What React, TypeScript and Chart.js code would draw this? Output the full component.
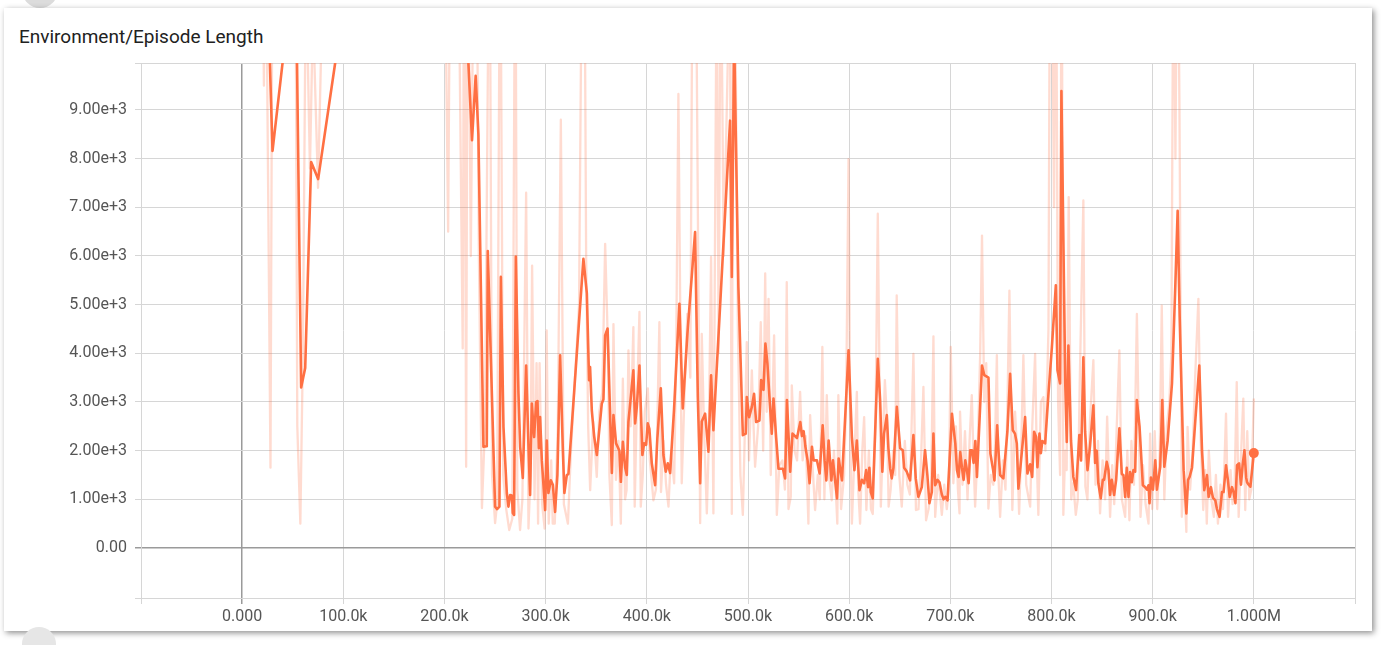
import React, { useEffect, useRef } from 'react';
import { Chart, registerables } from 'chart.js';

Chart.register(...registerables);

const TITLE = 'Environment/Episode Length';

// Smoothed series (steps in thousands)
const SMOOTH_STEPS_K = [
  23.7, 30.0, 44.5, 49.4, 53.9, 58.3, 62.3, 68.2, 75.1, 91.9, 96.9, 140, 190, 217, 222.4,
  227.2, 230.8, 233.5, 238.5, 241.8, 242.8, 250.0, 252.0, 254.3, 255.7, 258.3, 261.6, 263.2, 264.9,
  266.6, 267.5, 268.8, 270.5, 273.1, 274.8, 277.4, 280.7, 283.0, 284.6, 286.3, 288.6, 290.6, 291.9,
  293.3, 294.5, 296.2, 299.5, 301.1, 302.7, 305.1, 307.1, 309.3, 311.6, 314.3, 317.0, 318.5, 320.9,
  322.5, 337.3, 340.7, 342.9, 343.9, 345.6, 347.9, 350.6, 355.5, 357.1, 358.8, 361.2, 365.4, 367.0,
  369.6, 372.9, 374.3, 376.3, 378.6, 380.2, 381.8, 386.7, 388.4, 390.1, 392.7, 395.6, 397.3, 399.3,
  400.9, 402.5, 404.9, 408.2, 410.4, 413.8, 416.4, 418.7, 420.7, 423.0, 426.9, 432.2, 435.5, 440.1,
  447.7, 450.4, 452.7, 454.3, 457.6, 460.9, 463.5, 465.8, 482.3, 484.0, 486.3, 490.5, 494.9, 497.8,
  498.8, 501.1, 503.8, 506.0, 508.0, 511.3, 513.0, 515.3, 517.2, 519.2, 521.2, 523.5, 525.2, 527.8,
  530.1, 534.5, 536.7, 538.5, 541.7, 544.0, 548.4, 550.0, 551.7, 553.3, 555.0, 556.6, 558.9, 560.9,
  563.2, 564.9, 568.2, 570.8, 573.8, 575.7, 577.4, 579.7, 582.4, 584.0, 586.1, 588.0, 589.6, 592.9,
  599.4, 602.7, 605.2, 607.6, 610.2, 612.6, 614.8, 616.8, 618.7, 620.0, 621.4, 623.3, 628.3, 630.6,
  632.8, 634.5, 637.2, 638.8, 640.5, 642.1, 643.8, 647.1, 650.4, 653.0, 654.3, 656.9, 660.2, 663.5,
  665.8, 668.4, 671.8, 675.0, 677.3, 679.3, 681.7, 683.3, 685.0, 687.3, 689.3, 691.6, 693.3, 695.0,
  697.2, 701.6, 704.9, 706.6, 708.2, 709.8, 711.5, 713.1, 714.8, 716.4, 718.1, 719.7, 721.4, 723.0,
  724.7, 726.3, 731.3, 733.6, 737.7, 739.6, 742.3, 743.6, 746.3, 747.9, 749.2, 752.4, 756.4, 759.1,
  761.7, 763.9, 765.7, 767.3, 773.9, 776.2, 778.9, 780.9, 782.8, 784.8, 786.1, 788.1, 789.5, 791.0,
  793.7, 797.0, 800.3, 804.3, 805.9, 808.5, 809.8, 813.6, 815.1, 816.7, 819.3, 821.6, 824.3, 827.5,
  829.2, 831.5, 833.2, 835.6, 838.1, 841.4, 843.1, 844.7, 846.3, 848.7, 850.7, 852.0, 854.6, 856.3,
  857.9, 859.6, 861.9, 863.9, 867.1, 869.5, 871.1, 872.8, 874.4, 876.1, 877.7, 879.4, 881.0, 882.7,
  884.4, 887.0, 890.3, 892.6, 894.3, 895.9, 896.9, 898.3, 900.3, 902.6, 904.2, 907.5, 909.5, 911.5,
  914.8, 919.1, 922.4, 924.7, 926.7, 929.0, 930.6, 933.3, 935.0, 936.5, 938.9, 942.2, 946.1, 948.8,
  951.0, 953.7, 955.3, 957.6, 959.6, 961.9, 963.5, 966.1, 968.5, 970.1, 972.5, 974.4, 976.1, 978.4,
  980.0, 981.8, 983.4, 985.4, 987.3, 988.9, 990.7, 992.4, 993.3, 994.9, 996.6, 1000.0,
];
const SMOOTH_VALUES = [
  12500, 8160, 10800, 13000, 10500, 3300, 3700, 7930, 7580, 9960, 10700, 15000, 16000, 13000, 10500,
  8380, 9700, 8500, 2080, 2090, 6100, 850, 800, 850, 5570, 2490, 1130, 850, 1090,
  1080, 720, 680, 5990, 3180, 2080, 1440, 3750, 2100, 1090, 2970, 2280, 3000, 3020,
  2050, 2690, 1800, 780, 2210, 1130, 1390, 1300, 740, 1500, 3960, 2000, 1130, 1500,
  1520, 5940, 5230, 3450, 3720, 2830, 2300, 1910, 2970, 3050, 4370, 4510, 1540, 2730,
  2150, 2000, 1360, 2180, 1650, 1500, 2590, 3650, 2560, 2900, 3750, 1910, 2150, 2120,
  2560, 2450, 1740, 1290, 2250, 3280, 1910, 1570, 1740, 1540, 2850, 5020, 2870, 4400,
  6490, 3100, 1330, 2600, 2760, 1980, 3550, 2420, 8780, 5570, 10500, 5360, 2320, 2350,
  3100, 2690, 2900, 3170, 2590, 2620, 3450, 3250, 4200, 3790, 3100, 2350, 3070, 2280,
  1630, 1630, 1430, 3040, 1570, 2350, 2260, 2420, 2590, 2300, 2400, 2100, 1800, 1330,
  2080, 1800, 1800, 1530, 2520, 1800, 1390, 2210, 1390, 1800, 1390, 1020, 1840, 1390,
  4060, 2280, 1600, 2210, 1190, 1400, 1330, 1600, 1250, 1650, 1150, 1020, 3890, 3040,
  1570, 2350, 2730, 2050, 1640, 1430, 1650, 2900, 2050, 2010, 1650, 1570, 1390, 2320,
  1430, 1050, 1250, 2010, 1500, 920, 1150, 2350, 1290, 1400, 1350, 1100, 1000, 1050,
  980, 2760, 2150, 1600, 1460, 1970, 1650, 1400, 1800, 1600, 1330, 2010, 2010, 1750,
  2200, 1460, 3750, 3550, 3500, 1940, 1600, 1390, 2520, 1900, 1500, 1430, 2390, 3580,
  2420, 2350, 2150, 1220, 2690, 1530, 1720, 1460, 2390, 2280, 1660, 2350, 1950, 2200,
  2150, 3170, 4100, 5400, 3650, 3380, 9390, 3380, 2180, 4160, 2200, 1460, 1190, 2320,
  1800, 3920, 2400, 1600, 2100, 2930, 1750, 2000, 1330, 1020, 1400, 1400, 1770, 1600,
  1090, 1400, 1090, 1400, 2460, 1520, 1500, 1050, 1650, 1050, 1560, 1350, 1600, 1570,
  3040, 2500, 1290, 1250, 1200, 1290, 920, 1450, 1200, 1800, 1200, 1670, 3040, 1670,
  2200, 3380, 5400, 6930, 4740, 2900, 1600, 710, 1400, 1460, 1650, 2630, 3750, 2000,
  1190, 1500, 1050, 1250, 1030, 980, 800, 640, 1150, 1150, 1700, 1390, 1050, 1250,
  1150, 920, 1700, 1740, 1300, 1700, 2010, 1450, 1350, 1300, 1260, 1950,
];

// Raw series (steps in thousands)
const RAW_STEPS_K = [
  20, 21.5, 23, 28, 30, 36, 42, 48, 53, 54.5, 57.5, 60, 63, 67, 70, 75, 80, 86, 92, 98,
  120, 150, 180, 199, 203.6, 206, 212, 218, 219.5, 221.4, 223, 226, 229, 232, 234, 237, 240, 244.5,
  247, 250, 252, 255, 258, 261, 264, 267, 270, 272, 274.7, 277, 280.7, 283, 285, 286.6, 289, 291,
  292.5, 294, 296.5, 299, 301, 303, 305.5, 307, 309, 312, 315, 318, 322, 325, 329, 333, 336, 338,
  340, 342, 344, 347, 350.5, 353, 356, 358.8, 361.5, 363, 365.4, 367, 369.5, 372, 374.3, 376.3,
  378.5, 380, 381.8, 384, 386.7, 388, 390, 392.7, 394, 396, 398, 401, 403, 406.5, 409, 412.4,
  414, 416.5, 419, 421.4, 424, 427, 429, 431.2, 434.5, 437, 440, 443, 445, 447, 449, 452.7,
  454.3, 456.5, 459.3, 461, 463.5, 465.8, 469, 471, 473, 476, 479, 482, 484, 485.5, 487.5, 490,
  492.5, 494.9, 497, 498.8, 501, 503.8, 505.5, 507, 510, 512.6, 515, 517, 518.5, 520.3, 522.5,
  525.8, 528.5, 531, 534, 536.5, 538.3, 540, 542.3, 543.3, 546, 548.5, 551.5, 554, 557, 559.7,
  561.4, 563.5, 566.3, 569, 571, 573.5, 575.5, 577.9, 580, 582.8, 585, 588.3, 589.3, 592, 595,
  597, 599.4, 601, 602.7, 605, 607.6, 609, 610.8, 613, 614.8, 617, 619.5, 621.5, 623.3, 626,
  628.3, 631.3, 633, 635.3, 637.5, 639, 641, 643.5, 645.5, 647, 649.5, 652, 655, 657.5, 660,
  663.5, 666, 668.5, 671, 673.4, 676, 678.5, 681, 683.3, 685, 688, 691.6, 694, 696.5, 698.5,
  700.4, 703, 705.5, 707.5, 709.1, 709.6, 712, 714.5, 717, 719, 721.2, 723, 724.5, 727, 729.5,
  731.3, 733.5, 735.5, 737.6, 740, 742.5, 744, 746, 747.5, 749.2, 752, 754.5, 756.5, 758.4,
  761.3, 764, 766, 768, 770, 772.2, 775, 778.9, 781, 783.8, 785.5, 787, 789.5, 792, 794, 797,
  798.5, 800.5, 802.5, 804.5, 806.5, 808.5, 810, 811.7, 813.5, 815, 817, 819.5, 821.5, 824, 826,
  828, 831.5, 833.5, 835.5, 838, 841.4, 843.5, 846, 848, 850.5, 853, 855, 857.9, 860, 862,
  864.5, 867.1, 869.5, 872.8, 875, 877, 879, 881.5, 884.4, 886, 888, 890.5, 893, 895.9, 897.5,
  899.5, 902, 904.5, 907, 909, 911.5, 914, 916.5, 918.5, 920.5, 922.5, 924.5, 926.5, 928.8, 931,
  933.3, 934.5, 937, 939.5, 942, 945.2, 947.5, 950, 952, 953.5, 955.5, 958, 960.5, 962.5, 964.5,
  967, 969.5, 972.5, 974.5, 977, 979, 981, 983.1, 985, 987.5, 989.6, 991.5, 993.5, 995.5, 997.5,
  1000,
];
const RAW_VALUES = [
  13000, 9500, 14000, 1650, 13000, 15000, 12000, 16000, 11000, 2500, 500, 4000, 12000, 7800, 11000, 7400, 12000, 14000, 16000, 14000,
  17000, 18000, 16000, 15000, 6500, 14000, 16000, 4100, 14000, 1670, 14000, 6000, 13000, 12000, 6000, 820, 2500, 14000,
  1500, 510, 900, 14000, 1500, 800, 370, 600, 14000, 1200, 370, 1000, 7300, 400, 1500, 5800, 1000, 3800,
  500, 3800, 900, 400, 4470, 500, 1800, 500, 500, 2500, 8800, 900, 500, 2000, 3500, 5000, 13000, 14000,
  6000, 2500, 1190, 2600, 1460, 2800, 3200, 6250, 4200, 1500, 470, 4600, 1400, 2200, 500, 3480,
  1000, 1190, 4060, 2500, 4540, 850, 2800, 4850, 850, 1500, 2800, 3280, 1800, 980, 1200, 4640,
  1150, 2200, 1300, 850, 2000, 1330, 4000, 9330, 1330, 3000, 4810, 3500, 12000, 14000, 11000, 510,
  4400, 2500, 710, 2000, 5980, 710, 12000, 4000, 13000, 6000, 9000, 12000, 700, 14000, 11000, 4500,
  1500, 680, 2500, 4230, 1800, 3650, 2500, 1670, 2500, 4640, 2000, 5640, 2800, 5120, 1500,
  4370, 680, 1700, 1800, 1200, 5460, 800, 1050, 3340, 2000, 1800, 3210, 1800, 2300, 500,
  2730, 1800, 780, 1500, 1000, 4130, 1000, 3140, 1500, 980, 2000, 500, 3140, 800, 1500,
  3000, 7990, 2500, 500, 1800, 3210, 1200, 500, 2000, 2690, 780, 2000, 800, 700, 2500,
  6870, 850, 2000, 3450, 2600, 850, 1200, 2000, 1500, 5190, 1500, 850, 2200, 1300, 1100,
  3990, 780, 800, 1800, 3310, 570, 800, 1300, 4350, 640, 1500, 680, 1300, 800, 1200,
  4130, 1330, 2500, 1200, 710, 2800, 1300, 2400, 1000, 2200, 3140, 1800, 850, 2000, 4000,
  6420, 3000, 3800, 810, 1500, 1300, 2000, 3960, 1500, 640, 1800, 1200, 3000, 5290,
  780, 2800, 2000, 700, 2000, 3960, 1300, 850, 2500, 3990, 1800, 680, 3000, 3100, 2000, 4500,
  13000, 12000, 7000, 13000, 3000, 1500, 14000, 680, 2000, 1600, 7210, 1000, 1330, 680, 1000,
  3500, 7140, 1260, 1000, 2600, 3860, 1300, 2200, 710, 1800, 1000, 2700, 640, 1700, 900,
  2500, 4060, 1000, 640, 2000, 570, 2200, 1300, 4810, 2800, 640, 1700, 900, 500, 2350,
  800, 2400, 800, 2000, 4980, 1000, 2500, 3000, 4000, 13000, 8000, 14000, 9000, 640, 1500,
  330, 2490, 1200, 2000, 3500, 5120, 2200, 780, 1600, 500, 2000, 1000, 640, 1500, 500,
  1300, 800, 2760, 640, 1600, 900, 1300, 3410, 640, 2000, 3070, 780, 2400, 1000, 1200,
  3070,
];

const X_TICKS = [-100000, 0, 100000, 200000, 300000, 400000, 500000, 600000, 700000, 800000, 900000, 1000000, 1100000];
const X_TICK_LABELS = ['', '0.000', '100.0k', '200.0k', '300.0k', '400.0k', '500.0k', '600.0k', '700.0k', '800.0k', '900.0k', '1.000M', ''];
const Y_MIN = -1027;
const Y_MAX = 9965;
const Y_TICKS = [Y_MIN, 0, 1000, 2000, 3000, 4000, 5000, 6000, 7000, 8000, 9000, Y_MAX];
const Y_TICK_LABELS = ['', '0.00', '1.00e+3', '2.00e+3', '3.00e+3', '4.00e+3', '5.00e+3', '6.00e+3', '7.00e+3', '8.00e+3', '9.00e+3', ''];

const LINE_COLOR = '#ff7043';
const RAW_COLOR = 'rgba(255,112,67,0.25)';
const GRID_COLOR = '#d6d6d6';
const ZERO_COLOR = '#9a9a9a';

export default function App() {
  const canvasRef = useRef<HTMLCanvasElement | null>(null);

  useEffect(() => {
    document.body.style.margin = '0';
    const canvas = canvasRef.current;
    if (!canvas) return;
    const smoothData = SMOOTH_STEPS_K.map((s, i) => ({ x: s * 1000, y: SMOOTH_VALUES[i] }));
    const rawData = RAW_STEPS_K.map((s, i) => ({ x: s * 1000, y: RAW_VALUES[i] }));
    const lastIdx = smoothData.length - 1;
    const gridColor = (ctx: any) => (ctx.tick && ctx.tick.value === 0 ? ZERO_COLOR : GRID_COLOR);
    const gridWidth = (ctx: any) => (ctx.tick && ctx.tick.value === 0 ? 1.5 : 1);

    const chart = new Chart(canvas, {
      type: 'line',
      data: {
        datasets: [
          {
            data: smoothData,
            borderColor: LINE_COLOR,
            backgroundColor: LINE_COLOR,
            borderWidth: 2.6,
            borderJoinStyle: 'round',
            pointRadius: (ctx: any) => (ctx.dataIndex === lastIdx ? 5 : 0),
            pointBackgroundColor: LINE_COLOR,
            pointBorderWidth: 0,
            tension: 0,
            order: 1,
          },
          {
            data: rawData,
            borderColor: RAW_COLOR,
            borderWidth: 2.3,
            borderJoinStyle: 'round',
            pointRadius: 0,
            tension: 0,
            order: 2,
          },
        ],
      },
      options: {
        animation: false,
        responsive: false,
        devicePixelRatio: 1,
        layout: { padding: { left: 20, top: 63, right: 32, bottom: 10 } },
        plugins: { legend: { display: false }, tooltip: { enabled: false } },
        scales: {
          x: {
            type: 'linear',
            min: -100000,
            max: 1100000,
            afterBuildTicks: (scale: any) => {
              scale.ticks = X_TICKS.map((v) => ({ value: v }));
            },
            afterFit: (scale: any) => {
              scale.height = 37;
            },
            grid: { color: gridColor, lineWidth: gridWidth, tickLength: 6, drawTicks: true },
            border: { display: true, color: GRID_COLOR },
            ticks: {
              autoSkip: false,
              maxRotation: 0,
              minRotation: 0,
              padding: 3,
              color: '#555',
              font: { family: 'Roboto', size: 16 },
              callback: (_v: any, i: number) => X_TICK_LABELS[i],
            },
          },
          y: {
            type: 'linear',
            min: Y_MIN,
            max: Y_MAX,
            afterBuildTicks: (scale: any) => {
              scale.ticks = Y_TICKS.map((v) => ({ value: v }));
            },
            afterFit: (scale: any) => {
              scale.width = 121;
            },
            grid: { color: gridColor, lineWidth: gridWidth, tickLength: 6, drawTicks: true },
            border: { display: true, color: GRID_COLOR },
            ticks: {
              autoSkip: false,
              padding: 8,
              color: '#555',
              font: { family: 'Roboto', size: 16 },
              callback: (_v: any, i: number) => Y_TICK_LABELS[i],
            },
          },
        },
      },
    });
    return () => chart.destroy();
  }, []);

  return (
    <div style={{ position: 'fixed', left: 0, top: 0, width: 1387, height: 645, background: '#ffffff', overflow: 'hidden' }}>
      <div style={{ position: 'absolute', left: 22, top: -28, width: 36, height: 36, borderRadius: '50%', background: '#dcdcdc' }} />
      <div
        style={{
          position: 'absolute',
          left: 4,
          top: 8,
          width: 1368,
          height: 623,
          background: '#ffffff',
          boxShadow: '2px 2px 6px rgba(0,0,0,0.45)',
        }}
      />
      <div style={{ position: 'absolute', left: 22, top: 627, width: 34, height: 34, borderRadius: '50%', background: '#e6e6e6' }} />
      <div
        style={{
          position: 'absolute',
          left: 19,
          top: 26,
          fontFamily: 'Roboto, sans-serif',
          fontSize: 19,
          lineHeight: '22px',
          color: '#212121',
          whiteSpace: 'nowrap',
        }}
      >
        {TITLE}
      </div>
      <canvas ref={canvasRef} width={1387} height={645} style={{ position: 'absolute', left: 0, top: 0, width: 1387, height: 645 }} />
    </div>
  );
}
